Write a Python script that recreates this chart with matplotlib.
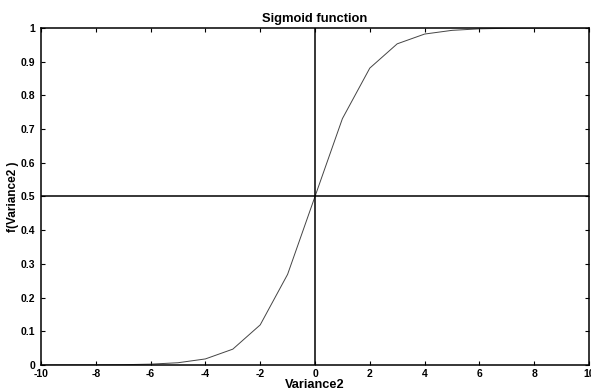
import matplotlib
matplotlib.use("Agg")
import matplotlib.pyplot as plt

x_vals = [-10, -9, -8, -7, -6, -5, -4, -3, -2, -1, 0,
          1, 2, 3, 4, 5, 6, 7, 8, 9, 10]
y_vals = [0.0000, 0.0001, 0.0003, 0.0009, 0.0025, 0.0067, 0.018, 0.047,
          0.119, 0.269, 0.5, 0.731, 0.881, 0.953, 0.982, 0.993, 0.9975,
          0.9991, 0.9997, 0.9999, 1.0]
x_ticks = [-10, -8, -6, -4, -2, 0, 2, 4, 6, 8, 10]
y_ticks = [0, 0.1, 0.2, 0.3, 0.4, 0.5, 0.6, 0.7, 0.8, 0.9, 1]

plt.rcParams["font.family"] = ["Liberation Sans", "DejaVu Sans"]

fig = plt.figure(figsize=(5.91, 3.92), dpi=100)
ax = fig.add_axes([0.0694, 0.0689, 0.9272, 0.8597])

ax.plot(x_vals, y_vals, color="#444444", lw=0.7)
ax.axhline(0.5, color="black", lw=1.1)
ax.axvline(0, color="black", lw=1.1)

ax.set_xlim(-10, 10)
ax.set_ylim(0, 1)
ax.set_xticks(x_ticks)
ax.set_yticks(y_ticks)
ax.set_xticklabels([str(t) for t in x_ticks])
ax.set_yticklabels([f"{t:g}" for t in y_ticks])
ax.tick_params(direction="in", top=True, right=True, length=3, width=0.8,
               labelsize=7.5)
ax.tick_params(axis="x", pad=3)
ax.tick_params(axis="y", pad=4)
for lab in ax.get_xticklabels() + ax.get_yticklabels():
    lab.set_fontweight("bold")
for spine in ax.spines.values():
    spine.set_linewidth(1.1)

ax.set_title("Sigmoid function", fontsize=9.4, fontweight="bold", pad=4)
ax.set_xlabel("Variance2", fontsize=9.2, fontweight="bold", labelpad=0)
ax.set_ylabel("f(Variance2 )", fontsize=8.5, fontweight="bold", labelpad=1)

fig.savefig("out.png", dpi=100)
